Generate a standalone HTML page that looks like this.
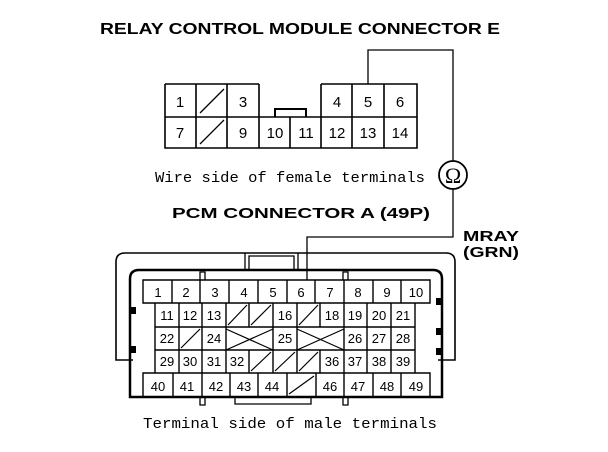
<!DOCTYPE html>
<html><head><meta charset="utf-8"><style>body{margin:0;background:#fff}svg{display:block}</style></head><body>
<svg width="608" height="452" viewBox="0 0 608 452" xmlns="http://www.w3.org/2000/svg" font-family="Liberation Sans, sans-serif">
<rect width="608" height="452" fill="#fff"/>
<text x="100" y="34" font-size="16" font-weight="bold" textLength="400" lengthAdjust="spacingAndGlyphs">RELAY CONTROL MODULE CONNECTOR E</text>
<g stroke="#000" fill="none" stroke-width="1.3">
<path d="M165 84 H259 M165 84 V148 H417 V84 H321 M196 84 V148 M227 84 V148 M259 84 V148 M165 117 H259 M259 117 H417 M290 117 V148 M321 84 V148 M352 84 V148 M384 84 V148" stroke-width="1.6"/>
<path d="M275 117 V109 H306 V117" stroke-width="2"/>
<path d="M200 113 L224 89 M200 144 L224 120"/>
<path d="M368 84 V50 H453 V161 M453 189 V237 H307 V280"/>
<circle cx="453" cy="175" r="14" stroke-width="1.8"/>
</g>
<text x="453" y="183" font-size="22" text-anchor="middle" font-family="Liberation Serif, serif">Ω</text>
<g font-size="15" text-anchor="middle">
<text x="180" y="107">1</text><text x="243" y="107">3</text><text x="337" y="107">4</text><text x="368" y="107">5</text><text x="400" y="107">6</text>
<text x="180" y="138">7</text><text x="243" y="138">9</text><text x="275" y="138">10</text><text x="306" y="138">11</text><text x="337" y="138">12</text><text x="368" y="138">13</text><text x="400" y="138">14</text>
</g>
<text x="155" y="182" font-size="15" font-family="Liberation Mono, monospace" textLength="270" lengthAdjust="spacingAndGlyphs">Wire side of female terminals</text>
<text x="172" y="218" font-size="15" font-weight="bold" textLength="258" lengthAdjust="spacingAndGlyphs">PCM CONNECTOR A (49P)</text>
<text x="463" y="241" font-size="15" font-weight="bold" textLength="56" lengthAdjust="spacingAndGlyphs">MRAY</text>
<text x="463" y="257" font-size="15" font-weight="bold" textLength="56" lengthAdjust="spacingAndGlyphs">(GRN)</text>
<g stroke="#000" fill="none">
<path d="M133 360 H116 V262 Q116 253 125 253 H446 Q455 253 455 262 V360 H438" stroke-width="1.6"/>
<path d="M245 270 V253 M298 270 V253 M249 270 V256 H294 V270" stroke-width="1.3"/>
<path d="M130 397 V279 Q130 270 139 270 H433 Q442 270 442 279 V397 Z" stroke-width="2.5"/>
<path d="M143 280 H430 V303 H143 Z M143 373 H430 V397 H143 Z M155 303 V373 H415 V303 M155 327 H415 M155 350 H415" stroke-width="1.4"/>
<path d="M172 280 V303 M200 280 V303 M229 280 V303 M258 280 V303 M287 280 V303 M315 280 V303 M344 280 V303 M373 280 V303 M401 280 V303" stroke-width="1.4"/>
<path d="M173 373 V397 M202 373 V397 M230 373 V397 M258 373 V397 M287 373 V397 M316 373 V397 M344 373 V397 M373 373 V397 M401 373 V397" stroke-width="1.4"/>
<path d="M179 303 V373 M202 303 V373 M226 303 V373 M249 303 V327 M249 350 V373 M273 303 V373 M297 303 V373 M320 303 V327 M320 350 V373 M344 303 V373 M367 303 V373 M391 303 V373" stroke-width="1.4"/>
<path d="M228 325 L247 305 M251 325 L271 305 M299 325 L318 305 M181 348 L200 329 M251 371 L271 352 M275 371 L295 352 M299 371 L318 352 M289 394 L314 376 M226 329 L273 350 M226 350 L273 329 M297 329 L344 350 M297 350 L344 329" stroke-width="1.2"/>
<path d="M200 280 V272 H205 V280 M343 280 V272 H348 V280 M200 397 V405 H205 V397 M343 397 V405 H348 V397 M235 397 V404 H311 V397" stroke-width="1.3"/>
</g>
<g fill="#000"><rect x="131" y="307" width="5" height="7"/><rect x="131" y="346" width="5" height="7"/><rect x="436" y="298" width="5" height="7"/><rect x="436" y="328" width="5" height="7"/><rect x="436" y="348" width="5" height="7"/></g>
<g font-size="13" text-anchor="middle">
<text x="158" y="297">1</text><text x="186" y="297">2</text><text x="215" y="297">3</text><text x="244" y="297">4</text><text x="273" y="297">5</text><text x="301" y="297">6</text><text x="330" y="297">7</text><text x="358" y="297">8</text><text x="387" y="297">9</text><text x="416" y="297">10</text>
<text x="167" y="320">11</text><text x="190" y="320">12</text><text x="214" y="320">13</text><text x="285" y="320">16</text><text x="332" y="320">18</text><text x="355" y="320">19</text><text x="379" y="320">20</text><text x="403" y="320">21</text>
<text x="167" y="343">22</text><text x="214" y="343">24</text><text x="285" y="343">25</text><text x="355" y="343">26</text><text x="379" y="343">27</text><text x="403" y="343">28</text>
<text x="167" y="366">29</text><text x="190" y="366">30</text><text x="214" y="366">31</text><text x="237" y="366">32</text><text x="332" y="366">36</text><text x="355" y="366">37</text><text x="379" y="366">38</text><text x="403" y="366">39</text>
<text x="158" y="391">40</text><text x="187" y="391">41</text><text x="216" y="391">42</text><text x="244" y="391">43</text><text x="272" y="391">44</text><text x="330" y="391">46</text><text x="358" y="391">47</text><text x="387" y="391">48</text><text x="416" y="391">49</text>
</g>
<text x="143" y="428" font-size="15" font-family="Liberation Mono, monospace" textLength="294" lengthAdjust="spacingAndGlyphs">Terminal side of male terminals</text>
</svg>
</body></html>
